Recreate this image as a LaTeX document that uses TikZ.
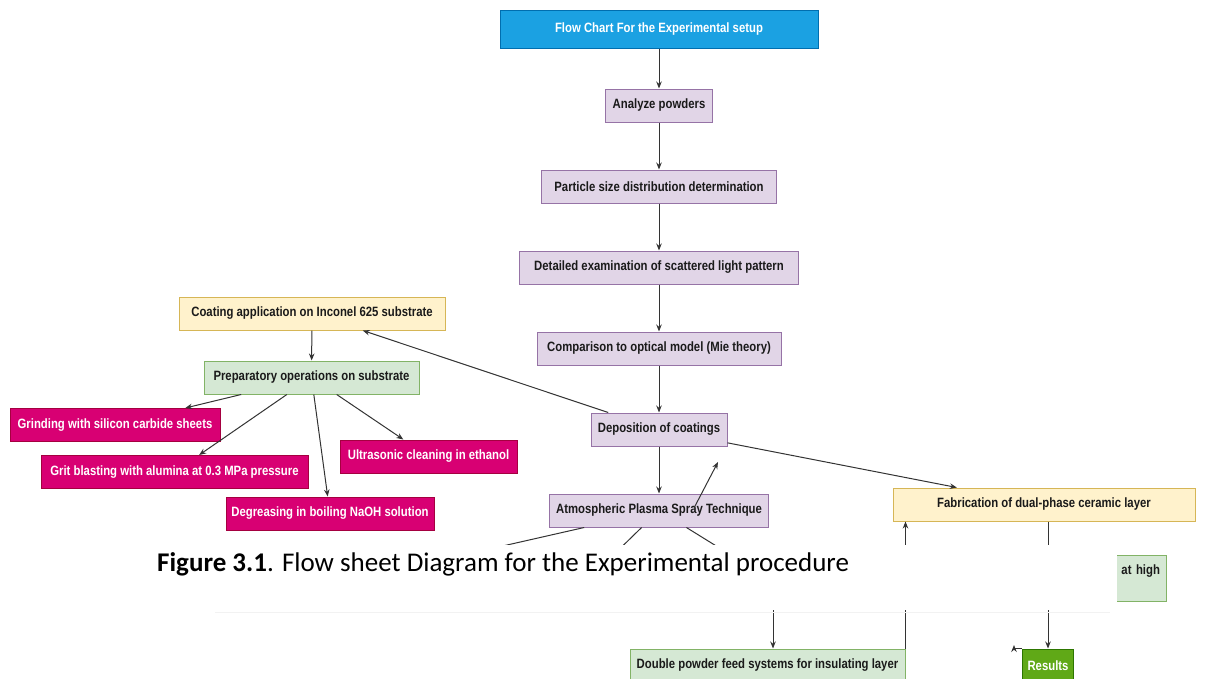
\documentclass[tikz,border=0pt]{standalone}
\usepackage{fontspec}
\setmainfont{Liberation Sans}
\newfontfamily\boxfont{Liberation Sans}[FakeStretch=0.84]
\newfontfamily\capfont{Carlito}
\usepackage{tikz}
\usetikzlibrary{positioning,arrows.meta}

\definecolor{titleblue}{HTML}{1BA1E2}
\definecolor{titleedge}{HTML}{006EAF}
\definecolor{steppurple}{HTML}{E1D5E7}
\definecolor{stepedge}{HTML}{9673A6}
\definecolor{coatyellow}{HTML}{FFF2CC}
\definecolor{coatedge}{HTML}{D6B656}
\definecolor{prepgreen}{HTML}{D5E8D4}
\definecolor{prepedge}{HTML}{82B366}
\definecolor{taskmagenta}{HTML}{D80073}
\definecolor{taskedge}{HTML}{A50040}
\definecolor{resgreen}{HTML}{60A917}
\definecolor{resedge}{HTML}{2D7600}
\definecolor{linegray}{HTML}{333333}
\definecolor{txtdark}{HTML}{1A1A1A}

\begin{document}
\begin{tikzpicture}[x=1pt, y=-1pt, node distance=47pt,
        box/.style={draw, rectangle, line width=1pt, minimum height=33pt, inner xsep=5pt, align=center,
            font=\boxfont\bfseries\fontsize{13.5}{15}\selectfont, text=txtdark},
        titlebox/.style={box, fill=titleblue, draw=titleedge, text=white, minimum height=38pt},
        stepbox/.style={box, fill=steppurple, draw=stepedge},
        coatbox/.style={box, fill=coatyellow, draw=coatedge},
        prepbox/.style={box, fill=prepgreen, draw=prepedge},
        taskbox/.style={box, fill=taskmagenta, draw=taskedge, text=white},
        resbox/.style={box, fill=resgreen, draw=resedge, text=white},
        link/.style={draw=linegray, line width=1pt},
        >={Stealth[length=7pt,width=5.5pt]}
    ]
        \fill [white] (0,0) rectangle (1211,678);
        \useasboundingbox (0,0) rectangle (1211,678);

        % main column
        \node [titlebox, minimum width=318pt] (title) at (659,29) {Flow Chart For the Experimental setup};
        \node [stepbox, minimum width=107pt, below=40pt of title] (analyze) {Analyze powders};
        \node [stepbox, minimum width=235pt, below=of analyze] (psd) {Particle size distribution determination};
        \node [stepbox, minimum width=279pt, below=of psd] (scatter) {Detailed examination of scattered light pattern};
        \node [stepbox, minimum width=244pt, below=of scatter] (mie) {Comparison to optical model (Mie theory)};
        \node [stepbox, minimum width=136pt, below=of mie] (depo) {Deposition of coatings};
        \node [stepbox, minimum width=219pt, below=of depo] (aps) {Atmospheric Plasma Spray Technique};

        % substrate branch
        \node [coatbox, minimum width=266pt] (coat) at (312,313.5) {Coating application on Inconel 625 substrate};
        \node [prepbox, minimum width=215pt] (prep) at (311.5,377.5) {Preparatory operations on substrate};
        \node [taskbox, minimum width=210pt] (grind) at (115,425) {Grinding with silicon carbide sheets};
        \node [taskbox, minimum width=267pt] (grit) at (174.5,472) {Grit blasting with alumina at 0.3 MPa pressure};
        \node [taskbox, minimum width=208pt] (degrease) at (330,513.5) {Degreasing in boiling NaOH solution};
        \node [taskbox, minimum width=177pt] (ultra) at (428.5,456.5) {Ultrasonic cleaning in ethanol};

        % ceramic layer branch
        \node [coatbox, minimum width=302pt] (fab) at (1044,504.5) {Fabrication of dual-phase ceramic layer};
        \node [prepbox, minimum width=96pt, minimum height=46pt, text width=84pt, align=right, text depth=16pt] (hightemp) at (1118,578) {at high};
        \node [prepbox, minimum width=275pt] (dpf) at (767.5,665.5) {Double powder feed systems for insulating layer};
        \node [resbox, minimum width=47pt] (res) at (1048,665.5) {Results};

        \coordinate (apsA) at (441,560);
        \coordinate (apsB) at (598,570);
        \coordinate (apsC) at (755,570);
        \coordinate (feed) at (773,590);
        \coordinate (strayA) at (694,508);
        \coordinate (strayB) at (718,462);
        \coordinate (resmark) at (1014,645);

        \draw [link, ->] (title) -- (analyze);
        \draw [link, ->] (analyze) -- (psd);
        \draw [link, ->] (psd) -- (scatter);
        \draw [link, ->] (scatter) -- (mie);
        \draw [link, ->] (mie) -- (depo);
        \draw [link, ->] (depo) -- (aps);
        \draw [link, ->] (depo) -- (coat);
        \draw [link, ->] (depo) -- (fab);
        \draw [link, ->] (coat) -- (prep);
        \draw [link, ->] (prep) -- (grind);
        \draw [link, ->] (prep) -- (grit);
        \draw [link, ->] (prep) -- (degrease);
        \draw [link, ->] (prep) -- (ultra);
        \draw [link] (aps) -- (apsA);
        \draw [link] (aps) -- (apsB);
        \draw [link] (aps) -- (apsC);
        \draw [link, ->] (strayA) -- (strayB);
        \draw [link, ->] (feed) -- (feed |- dpf.north);
        \draw [link, ->] (dpf.north east) -- (dpf.north east |- fab.south);
        \draw [link, ->] (res.north |- fab.south) -- (res.north);
        \draw [link, ->] (res.north west) -| (resmark);

        % caption band laid over the chart
        \fill [white] (0,545) rectangle (1117,610);
        \draw [black!5, line width=1pt] (215,612) -- (1110,612);
        \node [anchor=base west, inner sep=0pt] (caption) at (157,571)
            {\capfont\fontsize{27}{31}\selectfont\textbf{Figure 3.1}. Flow sheet Diagram for the Experimental procedure};

    \end{tikzpicture}
\end{document}
